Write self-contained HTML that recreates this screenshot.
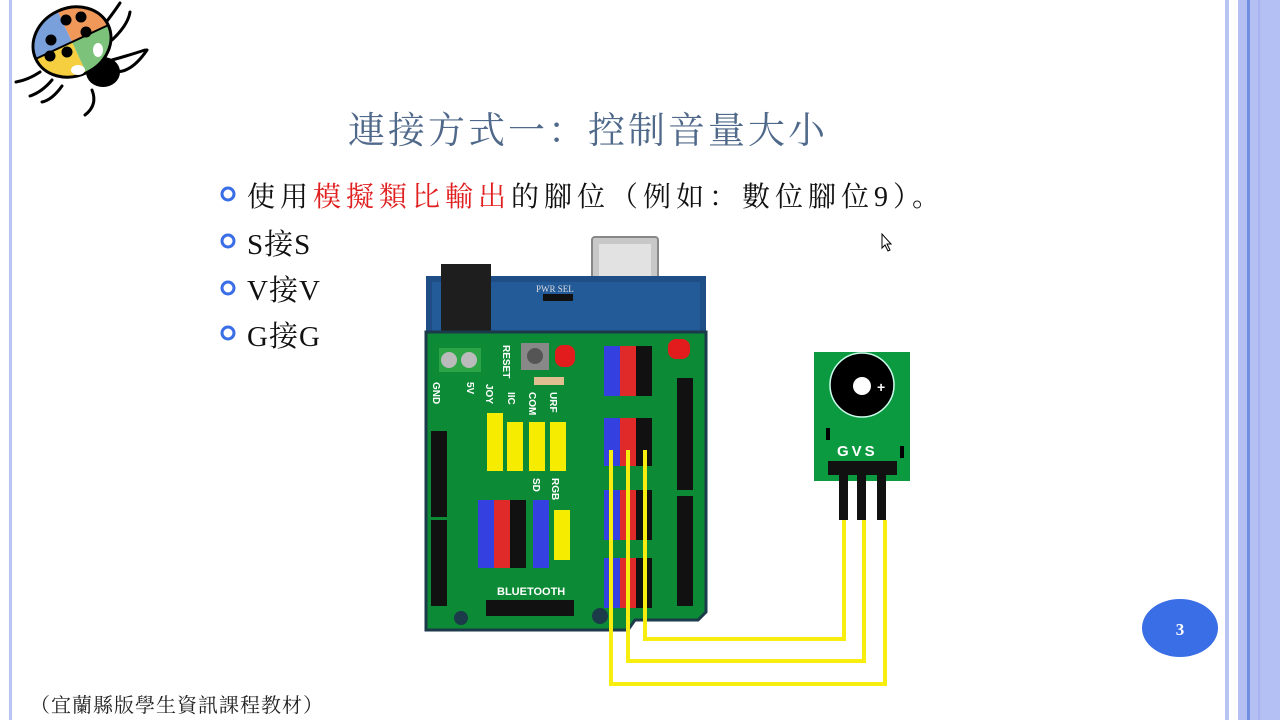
<!DOCTYPE html>
<html><head><meta charset="utf-8"><style>
html,body{margin:0;padding:0;width:1280px;height:720px;overflow:hidden;background:#fff}
.t{position:absolute;font-family:"Liberation Serif","Noto Serif CJK SC",serif;white-space:nowrap}
</style></head><body>
<svg width="1280" height="720" style="position:absolute;left:0;top:0">
<rect x="9" y="0" width="3" height="720" fill="#b8c4f2"/>
<rect x="1225" y="0" width="4" height="720" fill="#b8c4f2"/>
<rect x="1238" y="0" width="42" height="720" fill="#b4c0f4"/>
<rect x="1247" y="0" width="3" height="720" fill="#6f8ee0"/>
<rect x="1258" y="0" width="2" height="720" fill="#a5b4ee"/>
<g stroke="#000" stroke-width="3" fill="none" stroke-linecap="round">
<path d="M100 30 Q112 15 120 3"/><path d="M112 40 Q128 25 130 12"/><path d="M112 60 Q130 55 145 50"/>
<path d="M40 72 Q28 80 16 82"/><path d="M52 80 Q42 92 30 96"/><path d="M62 86 Q52 100 42 102"/>
<path d="M108 70 Q128 78 147 50"/><path d="M92 90 Q98 105 85 115"/>
</g>
<ellipse cx="103" cy="72" rx="17" ry="15" fill="#000"/>
<g transform="rotate(-25 72 42)">
<path d="M72 42 L72 8 A40 34 0 0 1 112 42 Z" fill="#f0985a"/>
<path d="M72 42 L32 42 A40 34 0 0 1 72 8 Z" fill="#7aa0dc"/>
<path d="M72 42 L32 42 A40 34 0 0 0 72 76 Z" fill="#f6cf40"/>
<path d="M72 42 L72 76 A40 34 0 0 0 112 42 Z" fill="#7dc27a"/>
<ellipse cx="72" cy="42" rx="40" ry="34" fill="none" stroke="#000" stroke-width="3"/>
<line x1="32" y1="42" x2="112" y2="42" stroke="#000" stroke-width="2"/>
</g>
<g fill="#000"><circle cx="66" cy="20" r="5.5"/><circle cx="81" cy="17" r="5.5"/><circle cx="86" cy="32" r="5.5"/><circle cx="51" cy="40" r="5.5"/><circle cx="50" cy="56" r="5.5"/><circle cx="67" cy="52" r="5.5"/></g>
<g fill="#fff"><ellipse cx="98" cy="50" rx="5" ry="7"/><ellipse cx="78" cy="70" rx="7" ry="5"/></g>

<rect x="592" y="237" width="66" height="86" rx="3" fill="#c8c8c8" stroke="#888" stroke-width="2"/>
<rect x="599" y="244" width="52" height="70" fill="#e2e2e2"/>
<rect x="426" y="276" width="280" height="58" fill="#1f4d86"/>
<rect x="432" y="282" width="268" height="50" fill="#235a98"/>
<rect x="441" y="264" width="50" height="70" fill="#1e1e1e"/>
<path d="M426 332 H706 V612 L698 620 H635 L628 630 H426 Z" fill="#0c8a35" stroke="#1b3a4a" stroke-width="3"/>
<text x="536" y="292" font-size="9" fill="#ddd" font-family="Liberation Serif">PWR SEL</text>
<rect x="543" y="294" width="30" height="7" fill="#111"/>
<rect x="439" y="348" width="42" height="24" fill="#2da546"/>
<circle cx="449" cy="360" r="8" fill="#bbb"/><circle cx="469" cy="360" r="8" fill="#bbb"/>
<rect x="521" y="343" width="28" height="27" fill="#888"/><circle cx="535" cy="356" r="8" fill="#555"/>
<rect x="555" y="345" width="20" height="22" rx="8" fill="#e21c1c"/>
<rect x="668" y="339" width="22" height="20" rx="8" fill="#e21c1c"/>
<rect x="534" y="377" width="30" height="8" fill="#e0c090"/>
<g font-family="Liberation Sans" font-weight="bold" font-size="10" fill="#fff">
<text transform="translate(433,382) rotate(90)">GND</text>
<text transform="translate(467,382) rotate(90)">5V</text>
<text transform="translate(486,384) rotate(90)">JOY</text>
<text transform="translate(508,392) rotate(90)">IIC</text>
<text transform="translate(529,392) rotate(90)">COM</text>
<text transform="translate(550,392) rotate(90)">URF</text>
<text transform="translate(552,478) rotate(90)">RGB</text>
<text transform="translate(533,478) rotate(90)">SD</text>
<text transform="translate(503,345) rotate(90)">RESET</text>
</g>
<rect x="487" y="413" width="16" height="58" fill="#f5ec00"/>
<rect x="507" y="422" width="16" height="49" fill="#f5ec00"/>
<rect x="529" y="422" width="16" height="49" fill="#f5ec00"/>
<rect x="550" y="422" width="16" height="49" fill="#f5ec00"/>
<rect x="554" y="510" width="16" height="50" fill="#f5ec00"/>
<rect x="478" y="500" width="16" height="68" fill="#3440e0"/>
<rect x="494" y="500" width="16" height="68" fill="#e02a2a"/>
<rect x="510" y="500" width="16" height="68" fill="#111"/>
<rect x="533" y="500" width="16" height="68" fill="#3440e0"/>
<g>
<rect x="604" y="346" width="16" height="50" fill="#3440e0"/><rect x="620" y="346" width="16" height="50" fill="#e02a2a"/><rect x="636" y="346" width="16" height="50" fill="#111"/>
<rect x="604" y="418" width="16" height="48" fill="#3440e0"/><rect x="620" y="418" width="16" height="48" fill="#e02a2a"/><rect x="636" y="418" width="16" height="48" fill="#111"/>
<rect x="604" y="490" width="16" height="50" fill="#3440e0"/><rect x="620" y="490" width="16" height="50" fill="#e02a2a"/><rect x="636" y="490" width="16" height="50" fill="#111"/>
<rect x="604" y="558" width="16" height="50" fill="#3440e0"/><rect x="620" y="558" width="16" height="50" fill="#e02a2a"/><rect x="636" y="558" width="16" height="50" fill="#111"/>
</g>
<rect x="677" y="378" width="16" height="112" fill="#111"/>
<rect x="677" y="496" width="16" height="110" fill="#111"/>
<rect x="431" y="431" width="16" height="86" fill="#111"/>
<rect x="431" y="520" width="16" height="86" fill="#111"/>
<rect x="486" y="600" width="88" height="16" fill="#111"/>
<text x="497" y="595" font-size="11" fill="#fff" font-family="Liberation Sans" font-weight="bold">BLUETOOTH</text>
<circle cx="461" cy="618" r="7" fill="#1b3a4a"/><circle cx="600" cy="616" r="8" fill="#1b3a4a"/>
<rect x="814" y="352" width="96" height="129" fill="#0c9a40"/>
<circle cx="862" cy="385" r="32" fill="#000" stroke="#cfe" stroke-width="1.5"/>
<circle cx="862" cy="386" r="9" fill="#fff"/>
<text x="877" y="392" font-size="14" fill="#fff" font-family="Liberation Sans" font-weight="bold">+</text>
<text x="837" y="456" font-size="15" fill="#fff" font-family="Liberation Sans" font-weight="bold" letter-spacing="3">GVS</text>
<rect x="826" y="428" width="4" height="12" fill="#000"/><rect x="900" y="446" width="4" height="12" fill="#000"/>
<rect x="828" y="461" width="69" height="14" fill="#111"/>
<rect x="839" y="470" width="9" height="50" fill="#111"/><rect x="857" y="470" width="9" height="50" fill="#111"/><rect x="877" y="470" width="9" height="50" fill="#111"/>
<g fill="none" stroke="#f7ee10" stroke-width="4">
<path d="M611 450 V684 H885 V520"/>
<path d="M628 450 V661 H864 V520"/>
<path d="M645 450 V639 H844 V520"/>
</g>
<path d="M882 234 L882 248 L885 245 L888 251 L890 250 L887 244 L891 244 Z" fill="#fff" stroke="#000" stroke-width="1"/>
<ellipse cx="1180" cy="628" rx="38" ry="29" fill="#3a6ee6"/>
<text x="1180" y="635" font-size="17" fill="#fff" text-anchor="middle" font-family="Liberation Serif" font-weight="bold">3</text>
<g fill="none" stroke="#3a6ee6" stroke-width="3">
<circle cx="228" cy="194" r="6"/><circle cx="228" cy="241" r="6"/><circle cx="228" cy="288" r="6"/><circle cx="228" cy="333" r="6"/>
</g>
</svg>
<div class="t" style="left:348px;top:100px;font-size:37px;letter-spacing:3px;color:#50698a">連接方式一：控制音量大小</div>
<div class="t" style="left:247px;top:175px;font-size:28px;letter-spacing:5px;color:#111">使用<span style="color:#e02020">模擬類比輸出</span>的腳位（例如：數位腳位9）。</div>
<div class="t" style="left:247px;top:222px;font-size:29px;letter-spacing:1px;color:#111">S接S</div>
<div class="t" style="left:247px;top:268px;font-size:29px;letter-spacing:1px;color:#111">V接V</div>
<div class="t" style="left:247px;top:314px;font-size:29px;letter-spacing:1px;color:#111">G接G</div>
<div class="t" style="left:30px;top:689px;font-size:20px;letter-spacing:1px;color:#222">（宜蘭縣版學生資訊課程教材）</div>
</body></html>
